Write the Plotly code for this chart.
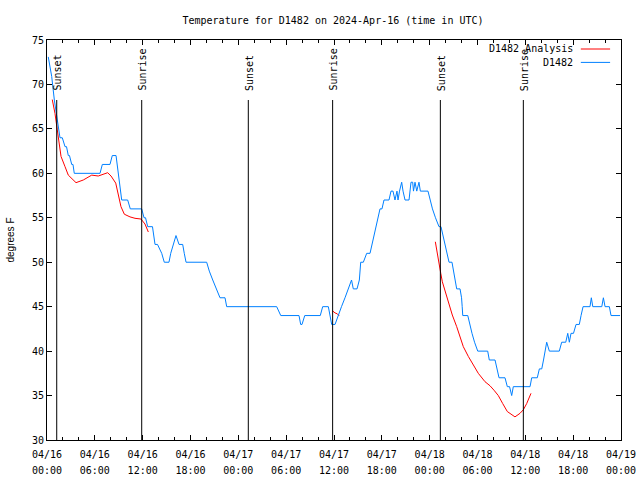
import pandas as pd
import plotly.graph_objects as go

START = pd.Timestamp("2024-04-16 00:00")

# Observed temperature (hours since 2024-04-16 00:00 UTC, degrees F)
obs_hours = [0.16, 0.59, 0.92, 1.22, 1.42, 1.63, 1.92, 2.26, 2.45, 2.67, 2.82, 3.10, 3.26, 3.42,
             6.65, 6.94, 7.90, 8.19, 8.66, 8.91, 9.06, 9.16, 9.37, 10.12, 10.45, 11.88, 12.17,
             12.36, 12.63, 13.23, 13.55, 13.86, 14.39, 14.71, 15.30, 15.52, 15.84, 16.18, 16.56,
             17.02, 17.22, 17.44, 20.03, 20.36, 20.79, 21.20, 21.70, 22.33, 22.54, 28.81, 29.32,
             31.61, 31.82, 31.99, 32.33, 34.28, 34.58, 35.29, 35.50, 35.71, 36.13, 36.50, 36.94,
             37.38, 37.80, 38.20, 38.42, 38.89, 39.18, 39.35, 39.68, 40.10, 40.52, 40.77, 41.08,
             41.36, 41.58, 41.77, 42.02, 42.27, 42.90, 43.15, 43.40, 43.65, 43.90, 44.03, 44.22,
             44.49, 44.66, 44.91, 45.41, 45.66, 45.87, 45.97, 46.16, 46.38, 46.66, 46.83, 47.79,
             48.04, 48.35, 48.73, 49.17, 49.42, 49.67, 49.93, 50.18, 50.43, 50.80, 50.99, 51.18,
             51.39, 51.81, 52.00, 52.08, 52.15, 52.78, 53.00, 53.31, 53.63, 54.03, 55.28, 55.48,
             56.20, 56.41, 56.70, 57.45, 57.74, 58.02, 58.29, 58.49, 60.59, 60.80, 61.50, 61.76,
             62.06, 62.28, 62.47, 62.68, 63.01, 64.26, 64.56, 65.07, 65.32, 65.52, 65.73, 66.04,
             66.36, 66.77, 66.99, 67.24, 68.11, 68.28, 68.46, 69.59, 69.79, 70.00, 70.54, 70.75,
             71.88]
obs_temps = [73.1, 70.9, 68.25, 66.4, 65, 64, 64, 63, 63, 62, 62, 61, 61, 60,
             60, 61, 61, 62, 62, 60, 59, 58, 57, 57, 56, 56, 55,
             55, 54, 54, 52, 52, 51, 50, 50, 51, 52, 53, 52,
             52, 51, 50, 50, 49, 48, 47, 46, 46, 45, 45, 44,
             44, 43, 43, 44, 44, 45, 45, 44, 43, 43, 44, 45,
             46, 47, 48, 47, 47, 48, 50, 50, 51, 51, 52, 53,
             54, 55, 56, 56, 57, 57, 58, 58, 57, 58, 57, 58,
             59, 58, 57, 57, 59, 59, 58, 59, 58, 59, 58, 58,
             57, 56, 55, 54, 54, 53, 52, 51, 50, 50, 49, 48,
             47, 47, 46, 45, 44, 44, 43, 42, 41, 40, 40, 39,
             39, 38, 37, 37, 36, 36, 35, 36, 36, 37, 37, 38,
             38, 39, 40, 41, 40, 40, 41, 41, 42, 41, 42, 42,
             43, 43, 44, 45, 45, 46, 45, 45, 46, 45, 45, 44,
             44]

# Analysis series (three separate runs)
ana1_hours = [0.66, 1.00, 1.29, 1.50, 1.76, 2.26, 2.67, 3.64, 4.55, 5.61, 6.43, 7.61, 8.03,
              8.62, 9.03, 9.28, 9.70, 10.41, 11.04, 11.79, 12.29, 12.71]
ana1_temps = [68.3, 66.75, 64.9, 63.6, 61.9, 60.75, 59.8, 58.95, 59.25, 59.8, 59.7, 60.07, 59.7,
              58.9, 57.4, 56.25, 55.4, 55.1, 54.94, 54.86, 54.3, 53.4]
ana2_hours = [35.79, 36.12, 36.41, 36.66]
ana2_temps = [44.55, 44.3, 44.2, 43.95]
ana3_hours = [48.71, 48.96, 49.17, 49.39, 49.59, 49.93, 50.34, 50.84, 51.39, 51.81, 52.22, 52.85,
              53.47, 54.10, 54.94, 55.57, 56.07, 56.61, 57.16, 57.74, 58.70, 59.33, 59.75, 60.17,
              60.71]
ana3_temps = [52.3, 50.8, 49.9, 48.75, 47.8, 46.7, 45.4, 44.06, 42.75, 41.6, 40.5, 39.4,
              38.4, 37.5, 36.56, 36.1, 35.6, 35.0, 34.1, 33.2, 32.6, 33.0, 33.4, 34.1,
              35.25]

# Sun events (hours since start)
sun_hours = [1.22, 11.88, 25.25, 35.83, 49.34, 59.75]
sun_labels = ["Sunset", "Sunrise", "Sunset", "Sunrise", "Sunset", "Sunrise"]

# Axis ticks
x_tick_hours = [0, 6, 12, 18, 24, 30, 36, 42, 48, 54, 60, 66, 72]
x_tick_dates = ["04/16", "04/16", "04/16", "04/16", "04/17", "04/17", "04/17", "04/17",
                "04/18", "04/18", "04/18", "04/18", "04/19"]
x_tick_times = ["00:00", "06:00", "12:00", "18:00", "00:00", "06:00", "12:00", "18:00",
                "00:00", "06:00", "12:00", "18:00", "00:00"]
y_ticks = [30, 35, 40, 45, 50, 55, 60, 65, 70, 75]


def to_time(hours):
    return [START + pd.Timedelta(hours=h) for h in hours]


RED = "#ff0000"
BLUE = "#0080ff"
MONO = "DejaVu Sans Mono"

x_tick_text = ["<span style='font-size:10px'>%s</span><br><span style='font-size:10px'>%s</span>"
               % (d, t) for d, t in zip(x_tick_dates, x_tick_times)]

fig = go.Figure()
fig.add_trace(go.Scatter(x=to_time(ana1_hours), y=ana1_temps, mode="lines",
                         line=dict(color=RED, width=1), name="D1482 Analysis", showlegend=False))
fig.add_trace(go.Scatter(x=to_time(ana2_hours), y=ana2_temps, mode="lines",
                         line=dict(color=RED, width=1), showlegend=False))
fig.add_trace(go.Scatter(x=to_time(ana3_hours), y=ana3_temps, mode="lines",
                         line=dict(color=RED, width=1), showlegend=False))
fig.add_trace(go.Scatter(x=to_time(obs_hours), y=obs_temps, mode="lines",
                         line=dict(color=BLUE, width=1), name="D1482", showlegend=False))

for h, lab in zip(sun_hours, sun_labels):
    t = START + pd.Timedelta(hours=h)
    fig.add_shape(type="line", xref="x", yref="paper", x0=t, x1=t, y0=0, y1=0.85,
                  line=dict(color="black", width=1))
    fig.add_annotation(x=t, xref="x", y=0.868, yref="paper", text=lab, textangle=-90,
                       showarrow=False, xanchor="center", yanchor="bottom", xshift=1,
                       font=dict(family=MONO, size=10, color="black"))

# Gnuplot-style legend (text right-aligned, sample on the right)
legend_items = [("D1482 Analysis", RED, 0.9775), ("D1482", BLUE, 0.944)]
for text, col, yy in legend_items:
    fig.add_annotation(x=0.918, xref="paper", y=yy, yref="paper", text=text, showarrow=False,
                       xanchor="right", yanchor="middle", borderpad=0,
                       font=dict(family=MONO, size=10, color="black"))
    fig.add_shape(type="line", xref="paper", yref="paper", x0=0.930, x1=0.981, y0=yy, y1=yy,
                  line=dict(color=col, width=1))

fig.update_layout(
    width=640, height=480,
    margin=dict(l=47, r=19, t=40, b=40, autoexpand=False),
    paper_bgcolor="white", plot_bgcolor="white",
    showlegend=False,
    title=dict(text="Temperature for D1482 on 2024-Apr-16 (time in UTC)", x=333 / 640,
               xanchor="center", y=1 - 20 / 480, yanchor="middle",
               font=dict(family=MONO, size=10, color="black")),
    font=dict(family=MONO, size=10, color="black"),
)
fig.update_xaxes(
    range=[START, START + pd.Timedelta(hours=72)],
    tickvals=to_time(x_tick_hours), ticktext=x_tick_text,
    ticks="inside", ticklen=5, tickcolor="black", ticklabelstandoff=3,
    minor=dict(dtick=2 * 3600 * 1000, ticks="inside", ticklen=3, tickcolor="black",
               tick0=START),
    showline=True, linecolor="black", linewidth=1, mirror="ticks",
    showgrid=False, zeroline=False, automargin=False,
    tickfont=dict(family=MONO, size=12, color="black"),
)
fig.update_yaxes(
    range=[30, 75], tickvals=y_ticks,
    ticks="inside", ticklen=5, tickcolor="black",
    showline=True, linecolor="black", linewidth=1, mirror="ticks",
    showgrid=False, zeroline=False, automargin=False,
    tickfont=dict(family=MONO, size=10, color="black"),
    title=dict(text="degrees F", font=dict(family="Liberation Sans", size=10, color="black"),
               standoff=15),
)

fig.write_html("out.html", config={"displayModeBar": False},
               post_script="document.body.style.margin='0';document.body.style.padding='0';")
